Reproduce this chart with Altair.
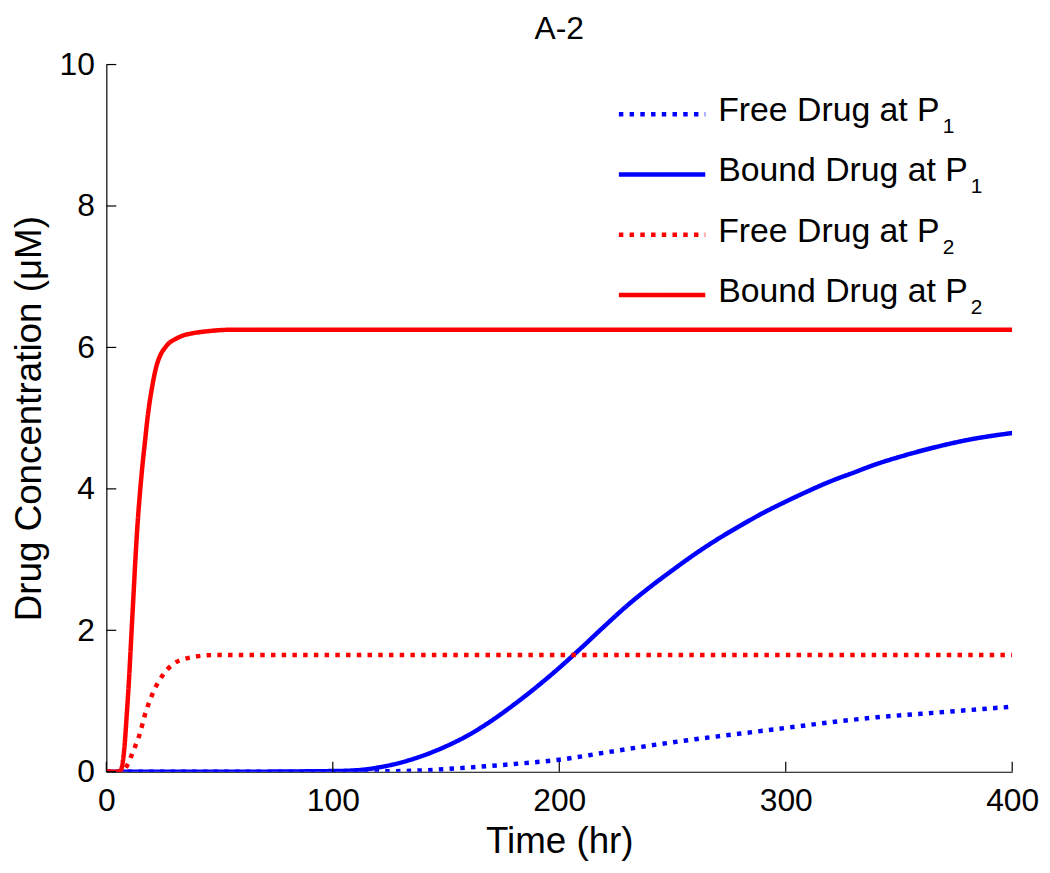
import altair as alt
import pandas as pd

# ---- data ----
series_names = ["Free Drug at P1", "Bound Drug at P1", "Free Drug at P2", "Bound Drug at P2"]
legend_main = ["Free Drug at P", "Bound Drug at P", "Free Drug at P", "Bound Drug at P"]
legend_sub = ["1", "1", "2", "2"]
series_colors = ["#0000ff", "#0000ff", "#ff0000", "#ff0000"]

free_p1_t = [0, 100, 120, 140, 160, 180, 200, 220, 240, 260, 280, 300, 320, 340, 360, 380, 400]
free_p1_c = [0, 0, 0.005, 0.02, 0.06, 0.11, 0.17, 0.27, 0.37, 0.46, 0.54, 0.62, 0.70, 0.77, 0.82, 0.87, 0.92]

bound_p1_t = [0, 50, 100, 110, 120, 130, 140, 150, 160, 170, 180, 190, 200, 210, 220, 230, 240,
              250, 260, 270, 280, 290, 300, 310, 320, 330, 340, 350, 360, 370, 380, 390, 400]
bound_p1_c = [0, 0, 0.01, 0.02, 0.06, 0.13, 0.23, 0.36, 0.52, 0.72, 0.95, 1.20, 1.47, 1.76, 2.06, 2.35, 2.61,
              2.85, 3.08, 3.29, 3.48, 3.66, 3.82, 3.97, 4.11, 4.23, 4.35, 4.45, 4.54, 4.62, 4.69, 4.745, 4.79]

free_p2_t = [0, 7, 8, 9, 10, 11, 12, 13, 14, 15, 16, 17, 18, 19, 20, 21, 23, 25, 27, 29, 32, 35, 38, 42, 48, 60, 100, 200, 300, 400]
free_p2_c = [0, 0, 0.03, 0.08, 0.14, 0.22, 0.30, 0.38, 0.46, 0.56, 0.68, 0.80, 0.90, 0.99, 1.07, 1.15, 1.27, 1.37, 1.45,
             1.51, 1.57, 1.60, 1.62, 1.64, 1.65, 1.65, 1.65, 1.65, 1.65, 1.65]

bound_p2_t = [0, 6, 8, 9, 10, 11, 12, 13, 14, 15, 16, 17, 18, 19, 20, 22, 24, 26, 28, 30, 34, 38, 45, 55, 70, 100, 200, 300, 400]
bound_p2_c = [0, 0, 0.35, 0.80, 1.30, 1.90, 2.50, 3.10, 3.60, 4.00, 4.35, 4.65, 4.95, 5.20, 5.40, 5.72, 5.90, 6.00,
              6.07, 6.11, 6.17, 6.20, 6.23, 6.25, 6.25, 6.25, 6.25, 6.25, 6.25]

x_ticks = [0, 100, 200, 300, 400]
y_ticks = [0, 2, 4, 6, 8, 10]

# ---- tables ----
rows = []
for name, ts, cs in [(series_names[0], free_p1_t, free_p1_c),
                     (series_names[1], bound_p1_t, bound_p1_c),
                     (series_names[2], free_p2_t, free_p2_c),
                     (series_names[3], bound_p2_t, bound_p2_c)]:
    for t, c in zip(ts, cs):
        rows.append({"series": name, "t": t, "c": c})
df = pd.DataFrame(rows)

leg = pd.DataFrame({"series": series_names, "main": legend_main, "sub": legend_sub,
                    "row": list(range(len(series_names)))})

FONT = "Liberation Sans"
W, H = 912, 712
LFS = 34  # legend font size

# approximate Arial/Liberation Sans advance widths (em) for placing the subscript
_aw = {"F": .611, "r": .333, "e": .556, " ": .278, "D": .722, "u": .556, "g": .556, "a": .556,
       "t": .278, "P": .667, "B": .667, "o": .556, "n": .556, "d": .556}
def text_w(s, fs):
    return sum(_aw.get(ch, .556) for ch in s) * fs

leg["subdx"] = [text_w(s, LFS) + 3 for s in legend_main]

color_scale = alt.Scale(domain=series_names, range=series_colors)
dash_scale = alt.Scale(domain=series_names, range=[[4.5, 6.3], [1, 0], [4.5, 6.3], [1, 0]])

xs = alt.Scale(domain=[0, 400], nice=False, zero=False)
ys = alt.Scale(domain=[0, 10], nice=False, zero=False)

lines = alt.Chart(df).mark_line(strokeWidth=4.5, interpolate="monotone", strokeCap="butt", clip=True).encode(
    x=alt.X("t:Q", scale=xs, title="Time (hr)",
            axis=alt.Axis(values=x_ticks, format="d", ticks=False, grid=False, labelFlush=False,
                          labelPadding=14, titlePadding=7, domainColor="black", domainWidth=1.2)),
    y=alt.Y("c:Q", scale=ys, title="Drug Concentration (μM)",
            axis=alt.Axis(values=y_ticks, format="d", ticks=False, grid=False, labelFlush=False,
                          labelPadding=12, titlePadding=11, domainColor="black", domainWidth=1.2)),
    color=alt.Color("series:N", scale=color_scale, legend=None),
    strokeDash=alt.StrokeDash("series:N", scale=dash_scale, legend=None),
    detail="series:N",
)

xtick = alt.Chart(pd.DataFrame({"t": x_ticks})).mark_rule(color="black", strokeWidth=1.2).encode(
    x=alt.X("t:Q", scale=xs), y=alt.value(H), y2=alt.value(H - 10))
ytick = alt.Chart(pd.DataFrame({"c": y_ticks})).mark_rule(color="black", strokeWidth=1.2).encode(
    y=alt.Y("c:Q", scale=ys), x=alt.value(0), x2=alt.value(10))

leg_base = alt.Chart(leg).transform_calculate(ly="50 + 60.7 * datum.row")
leg_sym = leg_base.mark_rule(strokeWidth=4.5, strokeCap="butt").encode(
    x=alt.value(516), x2=alt.value(603),
    y=alt.Y("ly:Q", scale=None),
    color=alt.Color("series:N", scale=color_scale, legend=None),
    strokeDash=alt.StrokeDash("series:N", scale=dash_scale, legend=None),
)
leg_txt = leg_base.mark_text(align="left", baseline="middle", fontSize=LFS, font=FONT, color="black", dy=-3).encode(
    x=alt.value(616), y=alt.Y("ly:Q", scale=None), text="main:N")
leg_sub = leg_base.transform_calculate(sx="616 + datum.subdx").mark_text(
    align="left", baseline="middle", fontSize=21, font=FONT, color="black", dy=13).encode(
    x=alt.X("sx:Q", scale=None), y=alt.Y("ly:Q", scale=None), text="sub:N")

chart = alt.layer(lines, xtick, ytick, leg_sym, leg_txt, leg_sub).properties(
    width=W, height=H,
    title=alt.TitleParams("A-2", fontSize=32, fontWeight="normal", anchor="middle", frame="group",
                          offset=3, font=FONT, color="black"),
    autosize=alt.AutoSizeParams(type="none"),
    padding={"left": 99, "top": 54, "right": 30, "bottom": 100},
).configure(font=FONT).configure_view(stroke=None).configure_axis(
    labelFontSize=32, titleFontSize=37, titleFontWeight="normal", labelColor="black",
    titleColor="black", labelFont=FONT, titleFont=FONT,
)

chart.save("out.html", embed_options={"renderer": "svg", "actions": False})
